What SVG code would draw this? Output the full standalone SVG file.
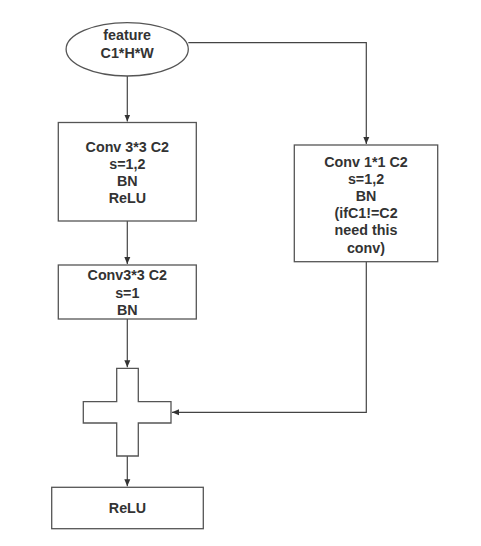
<svg xmlns="http://www.w3.org/2000/svg" width="481" height="546" viewBox="0 0 481 546">
<style>
.n{fill:#fff;stroke:#555;stroke-width:1.3}
.t{font-family:"Liberation Sans",Arial,sans-serif;font-weight:bold;font-size:14.3px;fill:#333;text-anchor:middle;dominant-baseline:central}
.c{fill:none;stroke:#444;stroke-width:1.2}
</style>
<defs>
<marker id="a" markerWidth="8" markerHeight="8" refX="7" refY="4" orient="auto" markerUnits="userSpaceOnUse">
<path d="M0,1 L7,4 L0,7 Z" fill="#333"/>
</marker>
</defs>
<rect width="481" height="546" fill="#fff"/>
<g id="connectors">
<path class="c" d="M127.3,76 V121.5" marker-end="url(#a)"/>
<path class="c" d="M188.3,42.7 H366.3 V144" marker-end="url(#a)"/>
<path class="c" d="M127.3,221 V264" marker-end="url(#a)"/>
<path class="c" d="M127.3,319 V367.3" marker-end="url(#a)"/>
<path class="c" d="M366.3,261.7 V412.3 H172" marker-end="url(#a)"/>
<path class="c" d="M127.3,456 V486.3" marker-end="url(#a)"/>
</g>
<g id="feature">
<ellipse class="n" cx="127.2" cy="49.3" rx="61.1" ry="26.7"/>
<text class="t" x="127.2" y="35">feature</text>
<text class="t" x="127.2" y="53">C1*H*W</text>
</g>
<g id="conv1">
<rect class="n" x="58.3" y="122.5" width="138" height="98.5"/>
<text class="t" x="127.3" y="146.7">Conv 3*3 C2</text>
<text class="t" x="127.3" y="164">s=1,2</text>
<text class="t" x="127.3" y="181.2">BN</text>
<text class="t" x="127.3" y="198.4">ReLU</text>
</g>
<g id="conv2">
<rect class="n" x="58.3" y="265" width="138" height="54"/>
<text class="t" x="127.3" y="275">Conv3*3 C2</text>
<text class="t" x="127.3" y="292.5">s=1</text>
<text class="t" x="127.3" y="310">BN</text>
</g>
<g id="shortcut">
<rect class="n" x="294.3" y="145" width="143.4" height="116.7"/>
<text class="t" x="366" y="161.7">Conv 1*1 C2</text>
<text class="t" x="366" y="178.8">s=1,2</text>
<text class="t" x="366" y="196">BN</text>
<text class="t" x="366" y="213.2">(ifC1!=C2</text>
<text class="t" x="366" y="230.4">need this</text>
<text class="t" x="366" y="247.5">conv)</text>
</g>
<g id="add">
<path class="n" d="M116.7,368.3 H138.3 V401.7 H171 V423 H138.3 V456 H116.7 V423 H83.3 V401.7 H116.7 Z"/>
</g>
<g id="relu">
<rect class="n" x="51.7" y="487.3" width="151.6" height="41.4"/>
<text class="t" x="127.5" y="508.3">ReLU</text>
</g>
</svg>
